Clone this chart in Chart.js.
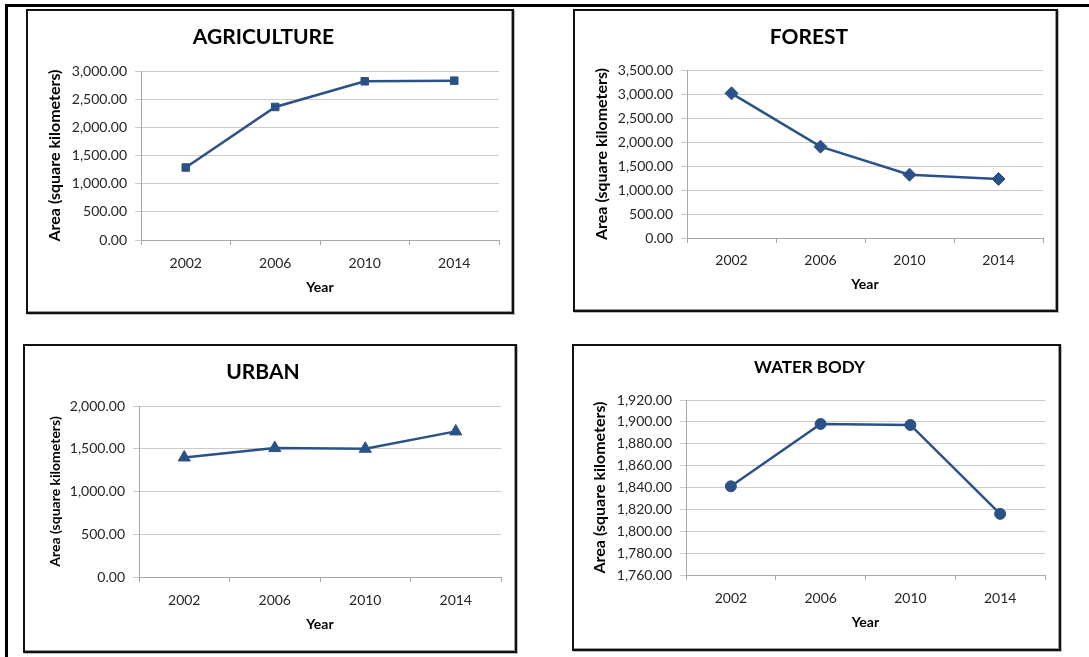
<!DOCTYPE html>
<html>
<head>
<meta charset="utf-8">
<script src="https://cdn.jsdelivr.net/npm/chart.js@4.4.1/dist/chart.umd.min.js"></script>
<style>
  html, body { margin: 0; padding: 0; background: #fff; }
  body { width: 1089px; height: 657px; position: relative; overflow: hidden; }
  .line { position: absolute; background: #000; }
  .box { position: absolute; border: 2px solid #111; box-sizing: border-box;
         box-shadow: inset -1px -1px 0 #9a9a9a, 1px 1px 0 #bbb; }
  .wrap { position: absolute; }
</style>
</head>
<body>
<div class="line" style="left:5px; top:4px; width:1084px; height:3px;"></div>
<div class="line" style="left:5px; top:4px; width:3px; height:653px;"></div>

<div class="box" style="left:26px; top:9px; width:488px; height:305px;"></div>
<div class="box" style="left:573px; top:9px; width:485px; height:303px;"></div>
<div class="box" style="left:23px; top:344px; width:494px; height:309px;"></div>
<div class="box" style="left:572px; top:344px; width:489px; height:307px;"></div>

<div class="wrap" style="left:28px; top:11px;"><canvas id="agriChart" width="484" height="301"></canvas></div>
<div class="wrap" style="left:575px; top:11px;"><canvas id="forestChart" width="481" height="299"></canvas></div>
<div class="wrap" style="left:25px; top:346px;"><canvas id="urbanChart" width="490" height="305"></canvas></div>
<div class="wrap" style="left:574px; top:346px;"><canvas id="waterChart" width="485" height="303"></canvas></div>

<script>
// data
const years = ['2002', '2006', '2010', '2014'];
const agriculture = [1287, 2362, 2817, 2829];
const forest = [3014, 1903, 1319, 1229];
const urban = [1398, 1508, 1500, 1703];
const waterBody = [1841.1, 1898.1, 1897.2, 1815.9];

// y axis: min, max, step
const agricultureAxis = [0, 3000, 500];
const forestAxis = [0, 3500, 500];
const urbanAxis = [0, 2000, 500];
const waterAxis = [1760, 1920, 20];

const yTitle = 'Area (square kilometers)';
const xTitle = 'Year';

const lineColor = '#2b5287';
const gridColor = '#cbcbcb';
const axisColor = '#a8a8a8';
const fontFamily = 'Lato, "Open Sans", sans-serif';

function fmt(v) {
    return v.toLocaleString('en-US', { minimumFractionDigits: 2, maximumFractionDigits: 2 });
}

// g: layout numbers (all in px, relative to canvas)
function makeChart(id, title, values, axis, marker, g) {
    var ctx = document.getElementById(id).getContext('2d');
    return new Chart(ctx, {
        type: 'line',
        data: {
            labels: years,
            datasets: [{
                data: values,
                borderColor: lineColor,
                backgroundColor: lineColor,
                borderWidth: 2.5,
                pointStyle: marker.style,
                pointRadius: marker.radius,
                pointBorderWidth: 1,
                tension: 0
            }]
        },
        options: {
            responsive: false,
            animation: false,
            layout: { padding: { top: 0, left: 0, right: g.padRight, bottom: 0 } },
            plugins: {
                legend: { display: false },
                tooltip: { enabled: false },
                title: {
                    display: true,
                    text: title,
                    color: '#000',
                    font: { family: fontFamily, size: g.titleSize, weight: 'bold', lineHeight: 1.2 },
                    padding: { top: g.titleTop, bottom: g.titleBottom }
                }
            },
            scales: {
                x: {
                    offset: true,
                    grid: { offset: true, drawOnChartArea: false, drawTicks: true, tickLength: 5, color: axisColor },
                    border: { color: axisColor, width: 1 },
                    ticks: { color: '#262626', padding: g.xTickPad, font: { family: fontFamily, size: 14 } },
                    title: {
                        display: true, text: xTitle, color: '#000',
                        font: { family: fontFamily, size: 14, weight: 'bold', lineHeight: 1.2 },
                        padding: { top: 0, bottom: g.xTitleBottom }
                    },
                    afterFit: function (scale) { scale.height = g.xHeight; }
                },
                y: {
                    min: axis[0],
                    max: axis[1],
                    grid: { color: gridColor, tickLength: 6, drawTicks: true },
                    border: { color: axisColor, width: 1 },
                    ticks: {
                        stepSize: axis[2], color: '#262626', padding: 8,
                        font: { family: fontFamily, size: 14 },
                        callback: function (v) { return fmt(v); }
                    },
                    title: {
                        display: true, text: yTitle, color: '#000',
                        font: { family: fontFamily, size: g.yTitleSize, weight: 'bold', lineHeight: 1.2 },
                        padding: { top: g.yTitleTop, bottom: 0 }
                    },
                    afterFit: function (scale) { scale.width = g.yWidth; }
                }
            }
        }
    });
}

makeChart('agriChart', 'AGRICULTURE', agriculture, agricultureAxis,
    { style: 'rect', radius: 5.3 },
    { titleSize: 21, titleTop: 13.4, titleBottom: 21.4, yWidth: 113, padRight: 13, xHeight: 72,
      yTitleSize: 16, yTitleTop: 17.4, xTitleBottom: 16.6, xTickPad: 10 });

makeChart('forestChart', 'FOREST', forest, forestAxis,
    { style: 'rectRot', radius: 6.5 },
    { titleSize: 21, titleTop: 13.4, titleBottom: 20.4, yWidth: 112, padRight: 13, xHeight: 72,
      yTitleSize: 16, yTitleTop: 17.4, xTitleBottom: 17.6, xTickPad: 9 });

makeChart('urbanChart', 'URBAN', urban, urbanAxis,
    { style: 'triangle', radius: 7 },
    { titleSize: 21, titleTop: 13.4, titleBottom: 21.4, yWidth: 114, padRight: 14, xHeight: 74,
      yTitleSize: 14, yTitleTop: 21.6, xTitleBottom: 18.6, xTickPad: 10 });

makeChart('waterChart', 'WATER BODY', waterBody, waterAxis,
    { style: 'circle', radius: 5.5 },
    { titleSize: 17, titleTop: 11.8, titleBottom: 21.8, yWidth: 112, padRight: 14, xHeight: 74,
      yTitleSize: 16, yTitleTop: 16.4, xTitleBottom: 18.6, xTickPad: 10 });
</script>
</body>
</html>
